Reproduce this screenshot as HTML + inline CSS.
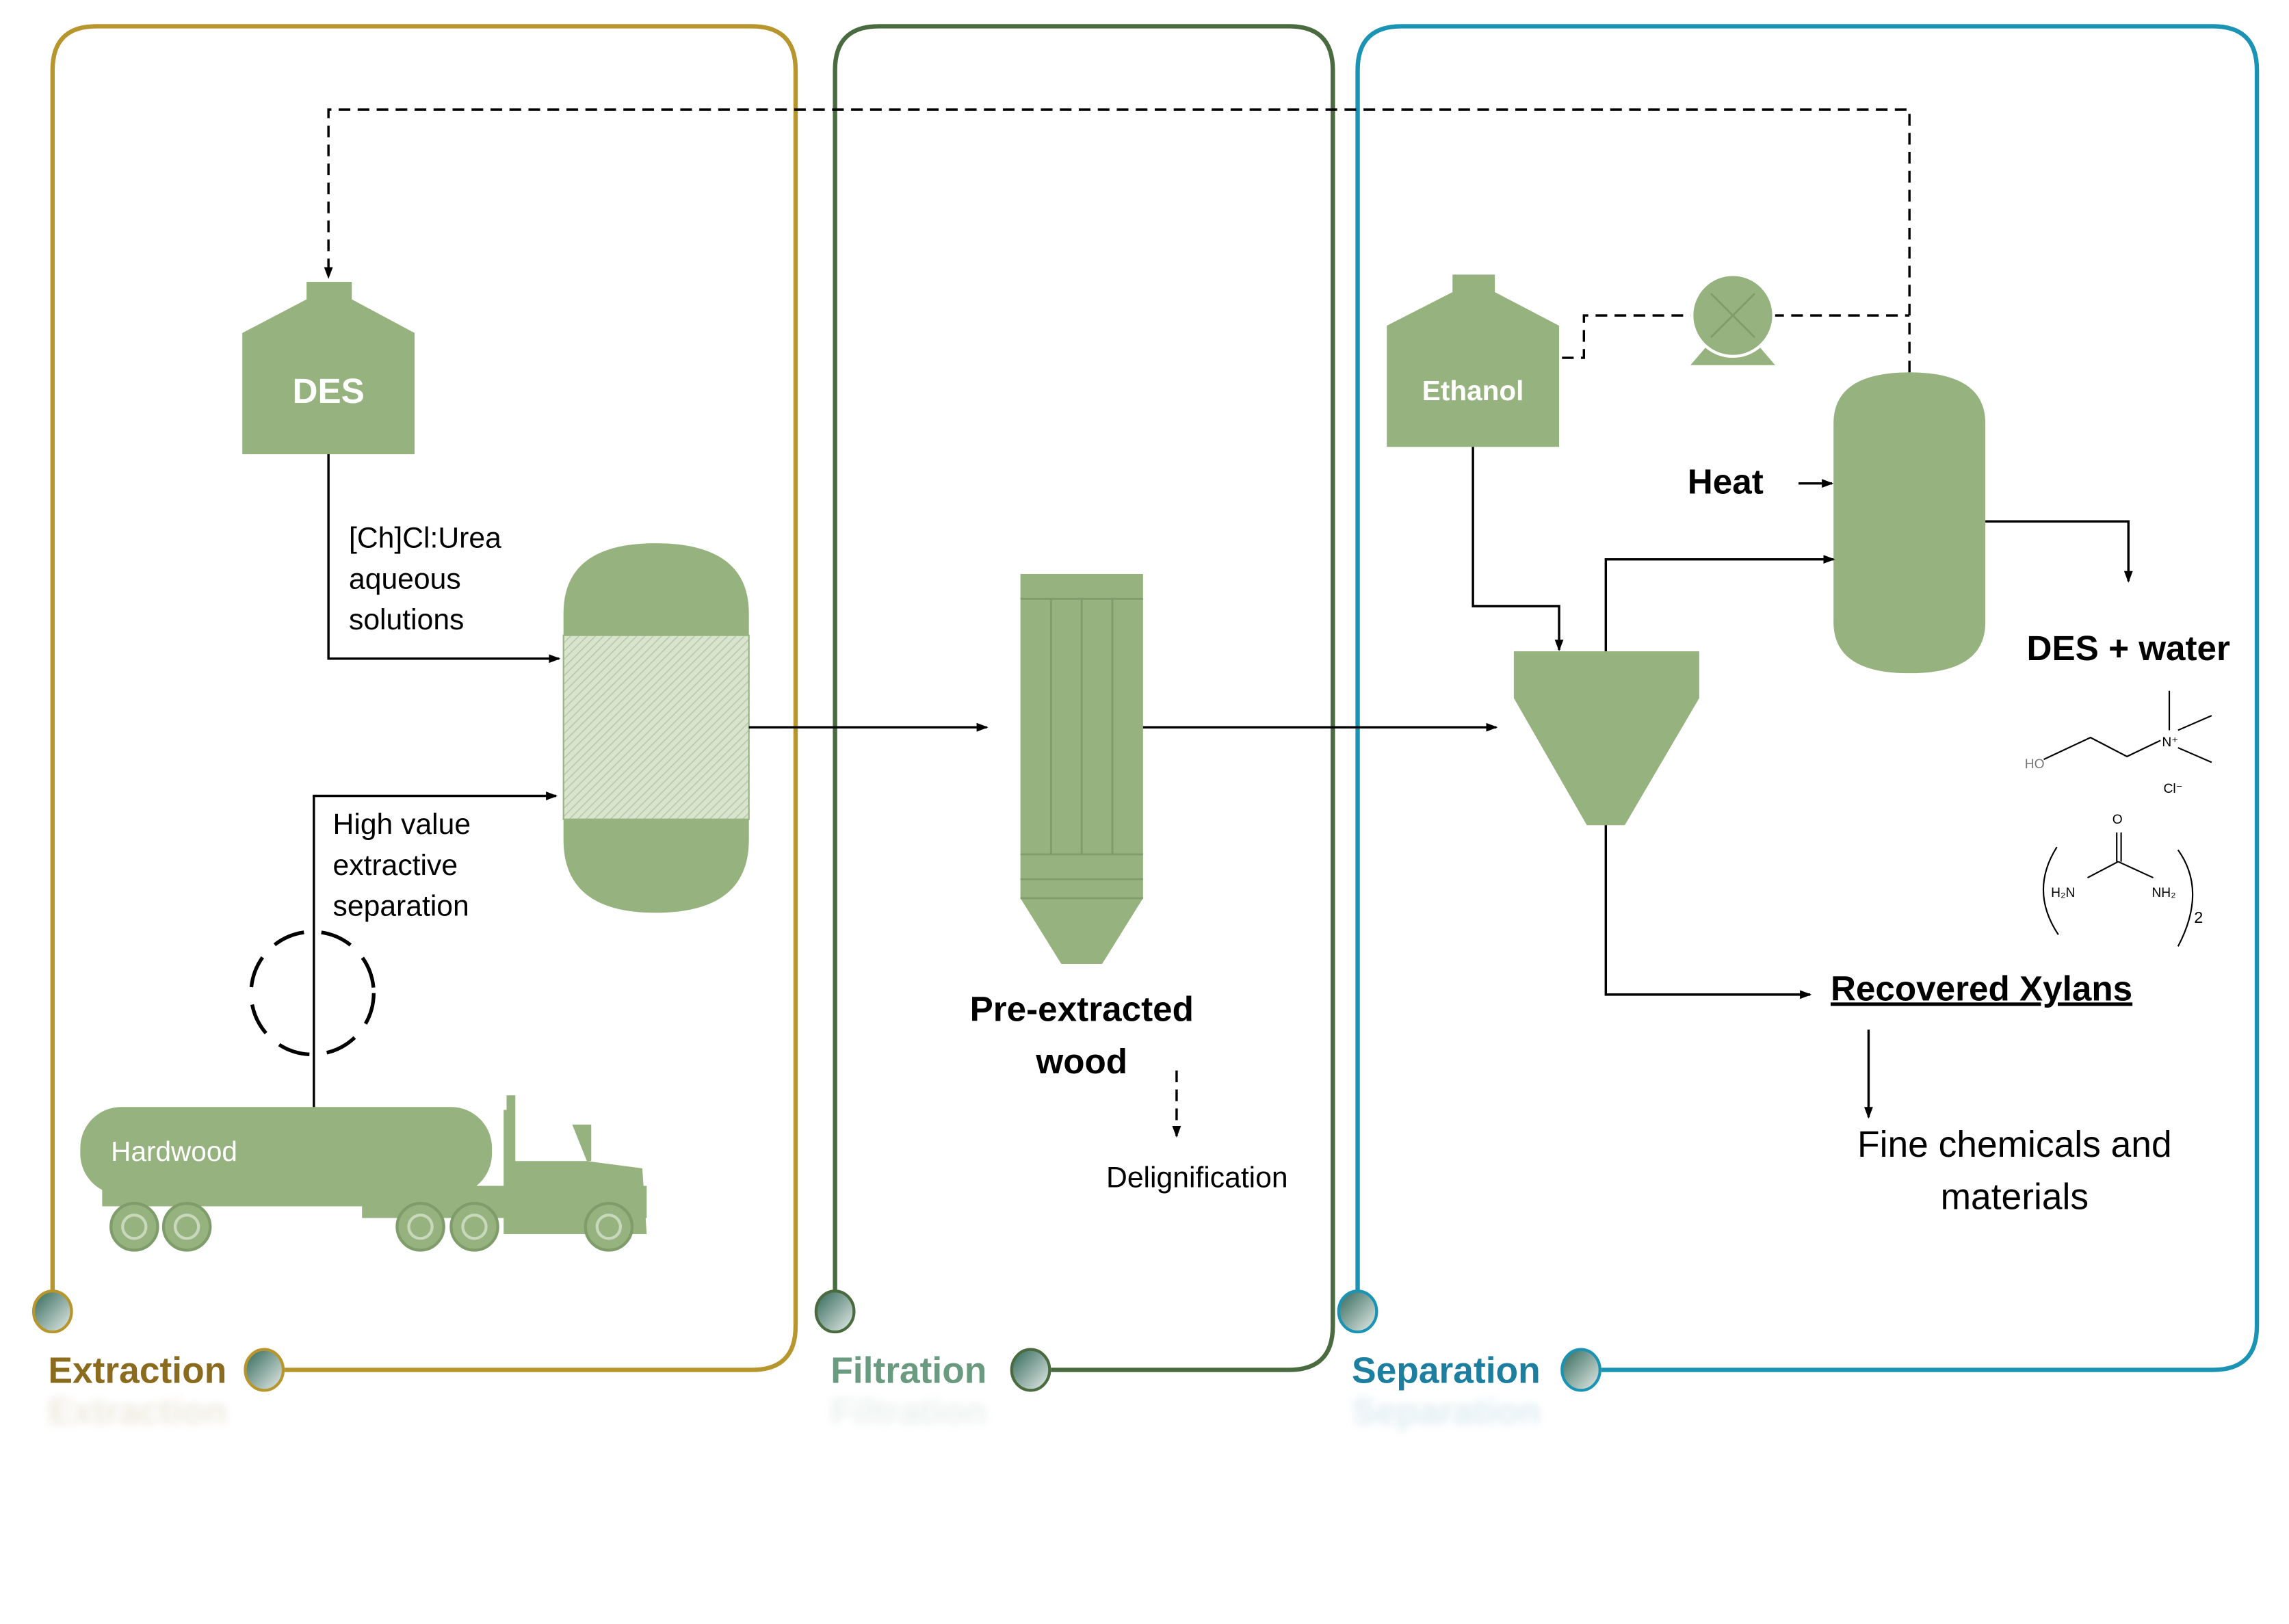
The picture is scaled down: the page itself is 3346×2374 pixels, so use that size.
<!DOCTYPE html>
<html><head><meta charset="utf-8"><style>html,body{margin:0;padding:0;background:#fff}svg{display:block}text{font-family:"Liberation Sans",sans-serif}</style></head>
<body>
<svg width="3346" height="2374" viewBox="0 0 1568 1112" preserveAspectRatio="none" xmlns="http://www.w3.org/2000/svg">
<defs>
<linearGradient id="g" x1="0" y1="0" x2="1" y2="1"><stop offset="0" stop-color="#2f6658"/><stop offset="1" stop-color="#e8eeea"/></linearGradient>
<pattern id="h" width="4" height="4" patternUnits="userSpaceOnUse" patternTransform="rotate(45)"><rect width="4" height="4" fill="#d9e4cf"/><line x1="0" y1="0" x2="0" y2="4" stroke="#b6c9a6" stroke-width="1.5"/></pattern>
<marker id="a" markerWidth="8" markerHeight="8" refX="7" refY="4" orient="auto" markerUnits="userSpaceOnUse"><path d="M0,1 L8,4 L0,7 Z" fill="#000"/></marker>
<filter id="b"><feGaussianBlur stdDeviation="3"/></filter>
</defs>
<g fill="none" stroke-width="3">
<path d="M36,885 V48 Q36,18 66,18 H515 Q545,18 545,48 V908 Q545,938 515,938 H195" stroke="#B8962E"/>
<path d="M572,885 V48 Q572,18 602,18 H883 Q913,18 913,48 V908 Q913,938 883,938 H720" stroke="#4A6B3F"/>
<path d="M930,885 V48 Q930,18 960,18 H1516 Q1546,18 1546,48 V908 Q1546,938 1516,938 H1097" stroke="#1A93B5"/>
</g>
<g stroke-width="2" fill="url(#g)">
<ellipse cx="36" cy="898" rx="13" ry="14" stroke="#B8962E"/>
<ellipse cx="181" cy="938" rx="13" ry="14" stroke="#B8962E"/>
<ellipse cx="572" cy="898" rx="13" ry="14" stroke="#4A6B3F"/>
<ellipse cx="706" cy="938" rx="13" ry="14" stroke="#4A6B3F"/>
<ellipse cx="930" cy="898" rx="13" ry="14" stroke="#1A93B5"/>
<ellipse cx="1083" cy="938" rx="13" ry="14" stroke="#1A93B5"/>
</g>
<g font-weight="bold" font-size="25">
<text x="33" y="947" fill="#8B6B1E">Extraction</text>
<text x="569" y="947" fill="#6a9a80">Filtration</text>
<text x="926" y="947" fill="#1C7FA0">Separation</text>
</g>
<g opacity="0.15" font-weight="bold" font-size="25" filter="url(#b)">
<text x="33" y="975" fill="#8B6B1E">Extraction</text><text x="569" y="975" fill="#6a9a80">Filtration</text><text x="926" y="975" fill="#1C7FA0">Separation</text>
</g>
<g fill="none" stroke="#000" stroke-width="1.6" stroke-dasharray="8,5">
<path d="M1308,255 V75 H225 V190" marker-end="url(#a)"/>
<path d="M1070,245 H1085 V216 H1160 M1214,216 H1308"/>
<circle cx="214" cy="680" r="42" stroke-width="2.5" stroke-dasharray="22,12"/>
<path d="M806,733 V778" marker-end="url(#a)"/>
</g>
<g fill="#96B27F">
<polygon points="166,228 210,205 210,193 241,193 241,205 284,228 284,311 166,311"/>
<polygon points="950,223 995,200 995,188 1024,188 1024,200 1068,223 1068,306 950,306"/>
<path d="M386,435 V420 Q386,372 449,372 Q513,372 513,420 V575 Q513,625 449,625 Q386,625 386,575 Z"/>
<rect x="386" y="435" width="127" height="126" fill="url(#h)" stroke="#96B27F"/>
<rect x="699" y="393" width="84" height="222"/>
<polygon points="699,615 783,615 755,660 727,660"/>
<polygon points="1037,446 1164,446 1164,478 1113,565 1087,565 1037,478"/>
<path d="M1256,290 Q1256,255 1308,255 Q1360,255 1360,290 V426 Q1360,461 1308,461 Q1256,461 1256,426 Z"/>
<polygon points="1170,236 1204,236 1216,250 1158,250"/>
<circle cx="1187" cy="216" r="28" stroke="#fff" stroke-width="2"/>
<rect x="55" y="758" width="282" height="60" rx="28"/>
<rect x="70" y="812" width="300" height="14"/>
<path d="M345,760 H352 V795 H392 L405,795 L405,770 L392,770 L402,795 L440,800 L443,845 L345,845 Z"/>
<rect x="347" y="750" width="6" height="55"/>
<rect x="248" y="812" width="195" height="22"/>
</g>
<g stroke="#7f9c6b" stroke-width="1.3" fill="none">
<line x1="720" y1="410" x2="720" y2="585"/><line x1="741" y1="410" x2="741" y2="585"/><line x1="762" y1="410" x2="762" y2="585"/>
<line x1="699" y1="410" x2="783" y2="410"/><line x1="699" y1="585" x2="783" y2="585"/><line x1="699" y1="602" x2="783" y2="602"/><line x1="699" y1="615" x2="783" y2="615"/>
<path d="M1172,201 L1202,231 M1202,201 L1172,231"/>
</g>
<g fill="#96B27F" stroke="#7f9c6b" stroke-width="2">
<circle cx="92" cy="840" r="16"/><circle cx="128" cy="840" r="16"/><circle cx="288" cy="840" r="16"/><circle cx="325" cy="840" r="16"/><circle cx="417" cy="840" r="16"/>
</g>
<g fill="#96B27F" stroke="#c8d8bb" stroke-width="2"><circle cx="92" cy="840" r="8"/><circle cx="128" cy="840" r="8"/><circle cx="288" cy="840" r="8"/><circle cx="325" cy="840" r="8"/><circle cx="417" cy="840" r="8"/></g>
<g fill="#fff" font-weight="bold">
<text x="225" y="276" font-size="24" text-anchor="middle">DES</text>
<text x="1009" y="274" font-size="19" text-anchor="middle">Ethanol</text>
<text x="76" y="795" font-size="19" font-weight="normal">Hardwood</text>
</g>
<g fill="none" stroke="#000" stroke-width="1.6">
<path d="M225,311 V451 H383" marker-end="url(#a)"/>
<path d="M215,758 V545 H381" marker-end="url(#a)"/>
<path d="M513,498 H676" marker-end="url(#a)"/>
<path d="M783,498 H1025" marker-end="url(#a)"/>
<path d="M1009,306 V415 H1068 V445" marker-end="url(#a)"/>
<path d="M1100,446 V383 H1256" marker-end="url(#a)"/>
<path d="M1100,565 V681 H1240" marker-end="url(#a)"/>
<path d="M1232,331 H1255" marker-end="url(#a)"/>
<path d="M1360,357 H1458 V398" marker-end="url(#a)"/>
<path d="M1280,705 V765" marker-end="url(#a)"/>
</g>
<g font-size="20" fill="#000">
<text x="239" y="375">[Ch]Cl:Urea</text><text x="239" y="403">aqueous</text><text x="239" y="431">solutions</text>
<text x="228" y="571">High value</text><text x="228" y="599">extractive</text><text x="228" y="627">separation</text>
<text x="820" y="813" text-anchor="middle">Delignification</text>
<text x="1380" y="792" font-size="25" text-anchor="middle">Fine chemicals and</text>
<text x="1380" y="828" font-size="25" text-anchor="middle">materials</text>
</g>
<g font-size="24" font-weight="bold" fill="#000">
<text x="741" y="699" text-anchor="middle">Pre-extracted</text>
<text x="741" y="735" text-anchor="middle">wood</text>
<text x="1182" y="338" text-anchor="middle">Heat</text>
<text x="1458" y="452" text-anchor="middle">DES + water</text>
<text x="1254" y="685" text-decoration="underline">Recovered Xylans</text>
</g>
<g fill="none" stroke="#000" stroke-width="1">
<path d="M1400,520 L1432,505 L1457,518 L1480,507"/>
<path d="M1486,473 V500 M1492,500 L1515,490 M1492,512 L1515,522"/>
<path d="M1450,570 V590 M1453,570 V590 M1451,590 L1430,601 M1451,590 L1475,601"/>
<path d="M1409,580 Q1390,610 1410,640 M1492,582 Q1512,610 1492,648"/>
</g>
<g font-size="9" fill="#000">
<text x="1387" y="526" fill="#777">HO</text><text x="1481" y="511">N⁺</text><text x="1482" y="543">Cl⁻</text>
<text x="1447" y="564">O</text><text x="1405" y="614">H₂N</text><text x="1474" y="614">NH₂</text><text x="1503" y="632" font-size="11">2</text>
</g>
</svg>
</body></html>
